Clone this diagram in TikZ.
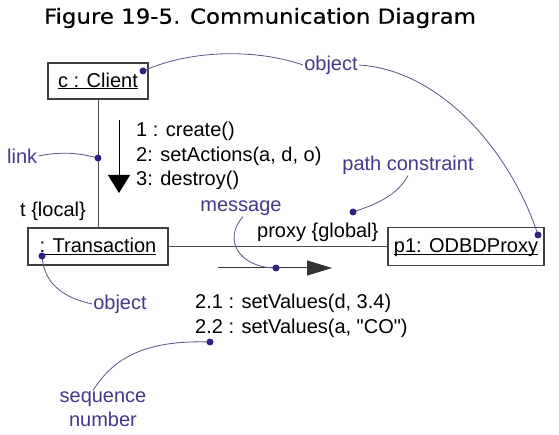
\documentclass[tikz,border=0pt]{standalone}
\usepackage{fontspec}
\setmainfont[Ligatures=TeXOff]{Liberation Sans}
\newfontfamily\titlefont[FakeStretch=1.1,FakeBold=0.4]{DejaVu Sans}
\usetikzlibrary{arrows.meta}

\definecolor{notecol}{HTML}{45388A}
\definecolor{dotcol}{HTML}{2E2283}
\definecolor{curvecol}{HTML}{5B5385}

\newcommand\labelsize{\fontsize{20}{24.5}\selectfont}
\newcommand\objname[1]{\underline{\raisebox{0pt}[\height][0pt]{#1}}}

\tikzset{
  objbox/.style={draw=black!75, line width=1.1pt, inner sep=0pt, font=\labelsize},
  lbl/.style={font=\labelsize, inner sep=1pt},
  note/.style={text=notecol, font=\labelsize, inner sep=1pt},
  linkline/.style={draw=black!70, line width=0.9pt},
  pointer/.style={draw=curvecol, line width=0.8pt},
  notedot/.style={fill=dotcol, draw=none},
  callarrow/.style={draw=black, line width=1pt, -{Triangle[length=18pt,width=22pt]}},
  sendarrow/.style={draw=black!80, line width=1pt, -{Triangle[length=25pt,width=15pt]}},
}

\begin{document}
\begin{tikzpicture}[x=1pt,y=-1pt]
  \useasboundingbox[fill=white] (0,0) rectangle (559,435);
  \node (title) at (260,18) {\titlefont\fontsize{20.8}{24}\selectfont Figure 19-5. Communication Diagram};

  % objects
  \node[objbox, minimum width=100pt, minimum height=36pt] (client) at (98,81) {\objname{c : Client}};
  \node[objbox, minimum width=140pt, minimum height=37pt] (trans) at (98,246.5) {\objname{: Transaction}};
  \node[objbox, minimum width=156pt, minimum height=38pt] (proxy) at (466,246.5) {\objname{p1: ODBDProxy}};

  % links
  \draw[linkline] (client) -- (trans);
  \draw[linkline] (trans) -- (proxy);
  \node[lbl, anchor=west] (role1) at (19,211) {t \{local\}};
  \node[lbl, anchor=west] (role2) at (256,232) {proxy \{global\}};

  % messages
  \coordinate (m1s) at (119,120);
  \coordinate (m1e) at (119,193);
  \draw[callarrow] (m1s) -- (m1e);
  \node[lbl, anchor=west, align=left] (msg1) at (135,156) {1 : create()\\2: setActions(a, d, o)\\3: destroy()};
  \coordinate (m2s) at (218,268);
  \coordinate (m2e) at (332,268);
  \draw[sendarrow] (m2s) -- (m2e);
  \node[lbl, anchor=west, align=left] (msg2) at (194,316) {2.1 : setValues(d, 3.4)\\2.2 : setValues(a, "CO")};

  % notes
  \node[note, anchor=west] (linknote) at (6,156) {link};
  \coordinate (linkdot) at (98,158);
  \draw[pointer] (linknote.east) .. controls (68,150) and (85,155) .. (linkdot);

  \node[note] (objnote1) at (331,65) {object};
  \coordinate (clientdot) at (143,71);
  \coordinate (proxydot) at (538,235);
  \draw[pointer] (objnote1.west) .. controls (260,50) and (195,48) .. (clientdot);
  \draw[pointer] (objnote1.east) .. controls (440,70) and (510,150) .. (proxydot);

  \node[note] (pathnote) at (408,165) {path constraint};
  \coordinate (pathdot) at (353,212);
  \draw[pointer] (pathnote.south) .. controls (398,195) and (375,205) .. (pathdot);

  \node[note] (msgnote) at (241,208) {message};
  \coordinate (msgdot) at (276,268);
  \draw[pointer] ([xshift=2pt]msgnote.south) .. controls (222,240) and (240,268) .. (msgdot);

  \node[note] (objnote2) at (120,304) {object};
  \coordinate (transdot) at (42,256);
  \draw[pointer] (objnote2.west) .. controls (65,298) and (44,285) .. (transdot);

  \node[note, align=center, font=\fontsize{20}{23.5}\selectfont] (seqnote) at (103,409) {sequence\\number};
  \coordinate (seqdot) at (210,342);
  \draw[pointer] ([xshift=-10pt]seqnote.north) .. controls (115,355) and (150,340) .. (seqdot);

  \foreach \d in {linkdot,clientdot,proxydot,pathdot,msgdot,transdot,seqdot}
    \fill[notedot] (\d) circle (3.5pt);
\end{tikzpicture}
\end{document}
